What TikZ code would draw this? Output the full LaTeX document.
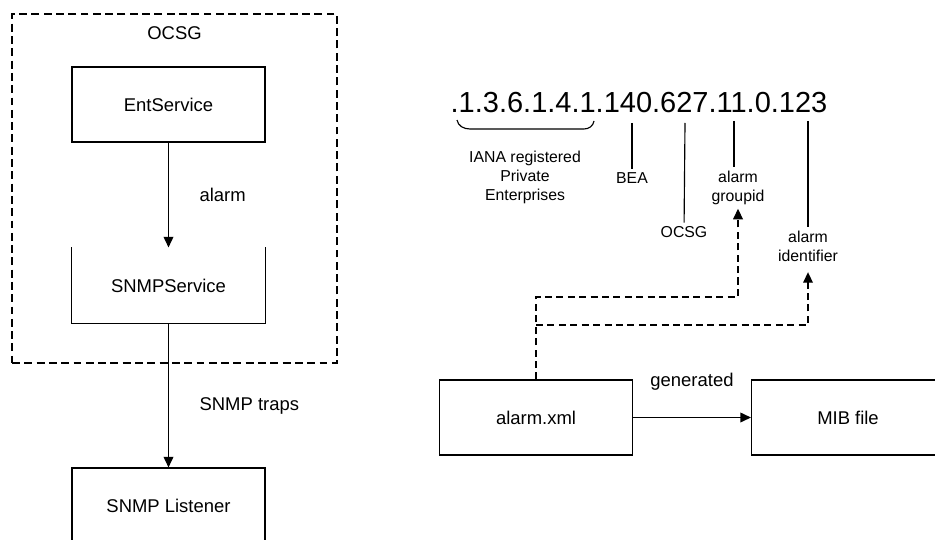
\documentclass[tikz,border=0pt]{standalone}
\usepackage{fontspec}
\setmainfont{Liberation Sans}
\usetikzlibrary{
    arrows.meta,
    positioning,
    calc
}

\begin{document}
\begin{tikzpicture}[
    x=0.02cm, y=-0.02cm,
    boxNode/.style={
        rectangle,
        draw=black, line width=0.65pt,
        minimum width=3.86cm, minimum height=1.5cm,
        font=\fontsize{10.5}{12}\selectfont,
        align=center, inner sep=0pt
    },
    frameNode/.style={
        rectangle,
        draw=black, line width=0.65pt, dash pattern=on 4.5pt off 2.5pt,
        minimum width=6.5cm, minimum height=6.98cm
    },
    oidLabel/.style={
        font=\fontsize{9}{10.8}\selectfont,
        align=center, inner sep=2pt
    },
    tickLine/.style={
        line width=0.65pt
    },
    flowArrow/.style={
        -{Triangle[length=6pt, width=5.5pt]}, line width=0.75pt
    },
    refArrow/.style={
        -{Triangle[length=6pt, width=5.5pt]}, line width=0.75pt,
        dash pattern=on 4pt off 2.5pt
    }
]

    \useasboundingbox (0,0) rectangle (935,540);

    % Left: OCSG container
    \node[frameNode] (ocsgFrame) at (174.5,188.5) {};
    \node[font=\fontsize{10.5}{12}\selectfont] (ocsgTitle) at (174.5,33) {OCSG};

    \node[boxNode] (entSvc) at (168.5,104.5) {EntService};
    \node[boxNode, draw=none] (snmpSvc) at (168.5,285.5) {SNMPService};
    \draw[line width=0.65pt] (snmpSvc.north west) -- (snmpSvc.south west)
        -- (snmpSvc.south east) -- (snmpSvc.north east);

    \node[boxNode] (snmpLst) at (168.5,505.5) {SNMP Listener};

    \draw[flowArrow] (entSvc) -- node[right=14pt, font=\fontsize{10.5}{12}\selectfont] {alarm} (snmpSvc);
    \draw[flowArrow] (snmpSvc) -- node[right=14pt, pos=0.57, font=\fontsize{10.5}{12}\selectfont] {SNMP traps} (snmpLst);

    % Right: OID breakdown
    \node[anchor=base, inner sep=0pt, font=\fontsize{16.5}{18}\selectfont] (oid) at (639,113)
        {.1.3.6.1.4.1.140.627.11.0.123};

    \coordinate (braceL) at (457,120);
    \coordinate (braceR) at (594,121);
    \draw[tickLine] (braceL) to[out=-80, in=180] (470,129) -- (584,129) to[out=0, in=-100] (braceR);

    \node[oidLabel] (ianaLbl) at (525,177) {IANA registered\\Private\\Enterprises};
    \node[oidLabel] (beaLbl) at (632,178) {BEA};
    \node[oidLabel] (ocsgLbl) at (684,232) {OCSG};
    \node[oidLabel] (grpLbl) at (738,188) {alarm\\groupid};
    \node[oidLabel] (idLbl) at (808,246) {alarm\\identifier};

    \coordinate (tickBea) at (632,123);
    \coordinate (tickOcsg) at (685,123);
    \coordinate (tickGrp) at (734,121);
    \coordinate (tickId) at (808,121);

    \draw[tickLine] (tickBea) -- (beaLbl);
    \draw[tickLine] (tickOcsg) -- (ocsgLbl);
    \draw[tickLine] (tickGrp) -- (tickGrp |- grpLbl.north);
    \draw[tickLine] (tickId) -- (idLbl);

    % Bottom: generation of the MIB
    \node[boxNode] (alarmXml) at (536,417.5) {alarm.xml};
    \node[boxNode] (mibFile) at (848,417.5) {MIB file};

    \draw[flowArrow] (alarmXml) -- node[above=12pt, font=\fontsize{10.5}{12}\selectfont] {generated} (mibFile);

    \coordinate (grpTurn) at (738,297);
    \coordinate (idTurn) at (808,325);
    \draw[refArrow] (alarmXml.north) |- (grpTurn) -- (grpLbl);
    \draw[refArrow, shorten >=4pt] (alarmXml.north |- idTurn) -- (idTurn) -- (idLbl);

\end{tikzpicture}
\end{document}
